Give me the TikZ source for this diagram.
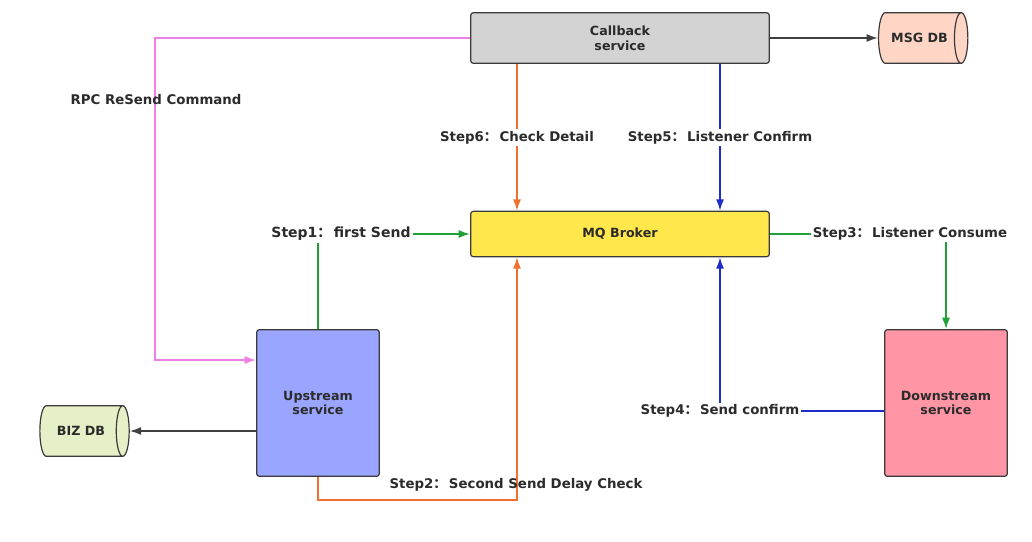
\documentclass[tikz,border=0pt]{standalone}
\usepackage{fontspec}
\setmainfont{DejaVu Sans}
\newfontfamily\cjk{Noto Sans CJK SC}
\usetikzlibrary{arrows.meta,positioning,shapes.geometric}
\definecolor{mqedge}{HTML}{3A3A3A}
\definecolor{mqtext}{HTML}{2B2B2B}
\definecolor{mqgrey}{HTML}{D3D3D3}
\definecolor{mqyellow}{HTML}{FFE74C}
\definecolor{mqblue}{HTML}{9AA5FF}
\definecolor{mqpink}{HTML}{FF95A5}
\definecolor{mqsalmon}{HTML}{FFD5C5}
\definecolor{mqlime}{HTML}{E6F0C8}
\definecolor{lnpink}{HTML}{F080E4}
\definecolor{lngreen}{HTML}{22A038}
\definecolor{lnorange}{HTML}{F07030}
\definecolor{lnblue}{HTML}{1E2DC8}
\definecolor{lngrey}{HTML}{404040}
\newcommand{\fwc}{{\cjk\bfseries ：}\,}
\tikzset{
  >={Latex[length=8.5pt,width=6pt]},
  font=\bfseries\fontsize{9.5}{11}\selectfont,
  svc/.style={draw=mqedge,line width=0.9pt,rounded corners=2pt,align=center,
              text=mqtext},
  dbstore/.style={cylinder,draw=mqedge,line width=0.9pt,shape aspect=1.4,
                  minimum height=67pt,minimum width=38pt,inner sep=0pt,text=mqtext},
  link/.style={->,line width=1.2pt},
  steplbl/.style={text=mqtext,inner sep=1.5pt,fill=white,
                  font=\bfseries\fontsize{10}{12}\selectfont},
  freelbl/.style={text=mqtext,inner sep=1.5pt,
                  font=\bfseries\fontsize{10}{12}\selectfont},
}
\begin{document}
\begin{tikzpicture}[x=0.75pt,y=-0.75pt]
  \useasboundingbox[fill=white] (0,0) rectangle (1032,542);

  % services
  \node[svc,fill=mqgrey,minimum width=224pt,minimum height=38pt] (callback)
    at (620,38) {Callback\\service};
  \node[svc,fill=mqyellow,minimum width=224pt,minimum height=34pt] (broker)
    at (620,234) {MQ Broker};
  \node[svc,fill=mqblue,minimum width=92pt,minimum height=110pt] (upstream)
    at (318,403) {Upstream\\service};
  \node[svc,fill=mqpink,minimum width=92pt,minimum height=110pt] (downstream)
    at (946,403) {Downstream\\service};

  % stores
  \node[dbstore,fill=mqsalmon,right=81pt of callback] (msgdb) {MSG DB};
  \node[dbstore,fill=mqlime] (bizdb) at (81,431) {BIZ DB};

  % bend points
  \coordinate (rpcbend) at (155,360);
  \coordinate (lo) at (517,500);
  \coordinate (ri) at (720,411);

  \draw[link,draw=lngrey] (callback.east) -- (msgdb.west);
  \draw[link,draw=lngrey] (upstream.west |- bizdb) -- (bizdb.east);
  \draw[link,draw=lnpink] (callback.west) -| (rpcbend) -- (rpcbend -| upstream.west);
  \draw[link,draw=lngreen] (upstream.north) |- (broker.west);
  \draw[link,draw=lnorange] (upstream.south) |- (lo) -- (lo |- broker.south);
  \draw[link,draw=lnorange] (lo |- callback.south) --
    node[steplbl]{Step6\fwc Check Detail} (lo |- broker.north);
  \draw[link,draw=lnblue] (ri |- callback.south) --
    node[steplbl]{Step5\fwc Listener Confirm} (ri |- broker.north);
  \draw[link,draw=lngreen] (broker.east) -| (downstream.north);
  \draw[link,draw=lnblue] (ri -| downstream.west) -- (ri) -- (ri |- broker.south);

  % labels
  \node[freelbl] (rpclbl) at (156,100) {RPC ReSend Command};
  \node[steplbl,font=\bfseries\fontsize{10.5}{12}\selectfont] (step1) at (341,234)
    {Step1\fwc first Send};
  \node[freelbl] (step2) at (516,485) {Step2\fwc Second Send Delay Check};
  \node[steplbl] (step3) at (910,234) {Step3\fwc Listener Consume};
  \node[steplbl] (step4) at (720,411) {Step4\fwc Send confirm};
\end{tikzpicture}
\end{document}
